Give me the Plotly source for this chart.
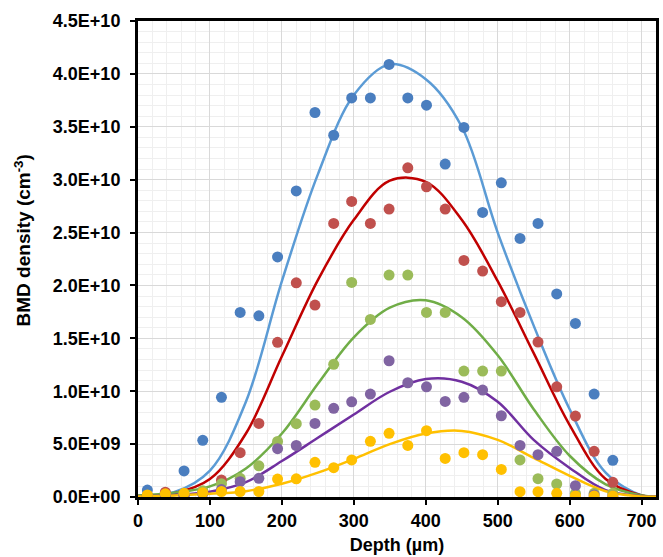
import plotly.graph_objects as go

# Measured BMD density profiles (five series) versus depth
depth_um = [13, 38, 64, 90, 116, 142, 168, 194, 220, 246, 272, 297, 323,
            349, 375, 401, 427, 453, 479, 505, 531, 556, 582, 608, 634, 660]

blue_pts = [6.6e8, 3.0e8, 2.46e9, 5.36e9, 9.42e9, 1.745e10, 1.713e10, 2.27e10,
            2.894e10, 3.635e10, 3.42e10, 3.773e10, 3.773e10, 4.089e10, 3.773e10,
            3.704e10, 3.147e10, 3.494e10, 2.69e10, 2.97e10, 2.444e10, 2.586e10,
            1.92e10, 1.641e10, 9.73e9, 3.47e9]
red_pts = [1.5e8, 4.5e8, 2.0e8, 5.0e8, 1.6e9, 4.19e9, 6.96e9, 1.462e10,
           2.025e10, 1.814e10, 2.586e10, 2.794e10, 2.586e10, 2.722e10, 3.112e10,
           2.933e10, 2.722e10, 2.237e10, 2.136e10, 1.846e10, 1.745e10, 1.465e10,
           1.042e10, 7.65e9, 4.32e9, 1.39e9]
green_pts = [1.0e8, 2.0e8, 3.0e8, 6.0e8, 1.25e9, 1.77e9, 2.95e9, 5.25e9,
             6.93e9, 8.69e9, 1.254e10, 2.029e10, 1.679e10, 2.098e10, 2.098e10,
             1.745e10, 1.745e10, 1.19e10, 1.19e10, 1.19e10, 3.5e9, 1.73e9,
             1.23e9, 3.5e8, 3.5e8, 3.5e8]
purple_pts = [1.0e8, 1.5e8, 1.0e8, 3.0e8, 7.0e8, 1.45e9, 1.77e9, 4.57e9,
              4.87e9, 6.96e9, 8.38e9, 9.0e9, 9.73e9, 1.288e10, 1.08e10,
              1.042e10, 9.04e9, 9.42e9, 1.011e10, 7.68e9, 4.88e9, 4.0e9,
              4.32e9, 1.07e9, 2.0e8, 1.0e8]
yellow_pts = [2.0e8, 3.0e8, 3.5e8, 4.0e8, 5.2e8, 5.2e8, 5.2e8, 1.7e9,
              1.72e9, 3.28e9, 2.77e9, 3.5e9, 5.26e9, 6.02e9, 4.88e9, 6.27e9,
              3.65e9, 4.19e9, 4.0e9, 2.61e9, 5.0e8, 5.0e8, 3.5e8, 1.0e8,
              1.0e8, 1.0e8]

# Fitted profile curves, sampled every 50 µm
fit_depth = [0, 50, 100, 150, 200, 250, 300, 350, 400, 450, 500, 550,
             600, 650, 700, 720]
blue_fit = [1.0e8, 4.5e8, 2.5e9, 9.0e9, 2.04e10, 3.05e10, 3.8e10, 4.09e10,
            3.95e10, 3.50e10, 2.50e10, 1.62e10, 8.3e9, 2.3e9, 1.5e8, 3e7]
red_fit = [1.0e8, 3.5e8, 1.7e9, 6.0e9, 1.33e10, 2.05e10, 2.62e10, 2.99e10,
           2.98e10, 2.62e10, 2.04e10, 1.36e10, 6.8e9, 1.7e9, 1.5e8, 3e7]
green_fit = [1.5e8, 4.0e8, 1.0e9, 2.7e9, 6.0e9, 1.07e10, 1.51e10, 1.79e10,
             1.86e10, 1.70e10, 1.34e10, 8.3e9, 3.9e9, 1.2e9, 1.5e8, 3e7]
purple_fit = [8e7, 2.0e8, 5.0e8, 1.4e9, 3.4e9, 5.6e9, 7.8e9, 9.95e9,
              1.115e10, 1.09e10, 9.0e9, 5.4e9, 2.75e9, 6.5e8, 8e7, 3e7]
yellow_fit = [5e7, 1.5e8, 3.0e8, 5.5e8, 1.25e9, 2.3e9, 3.6e9, 5.0e9,
              6.0e9, 6.25e9, 5.4e9, 3.7e9, 2.0e9, 5.5e8, 5e7, 2e7]

y_tickvals = [0, 5e9, 1e10, 1.5e10, 2e10, 2.5e10, 3e10, 3.5e10, 4e10, 4.5e10]
y_ticktext = ["0.0E+00", "5.0E+09", "1.0E+10", "1.5E+10", "2.0E+10",
              "2.5E+10", "3.0E+10", "3.5E+10", "4.0E+10", "4.5E+10"]

series = [
    (blue_pts, blue_fit, "#4a7ebf", "#5b9bd5"),
    (red_pts, red_fit, "#c0504d", "#c00000"),
    (green_pts, green_fit, "#9bbb59", "#70ad47"),
    (purple_pts, purple_fit, "#8064a2", "#7030a0"),
    (yellow_pts, yellow_fit, "#ffc000", "#ffc000"),
]

fig = go.Figure()
for pts, fit, mcol, lcol in series:
    fig.add_trace(go.Scatter(x=fit_depth, y=fit, mode="lines",
                             line=dict(color=lcol, width=2.5, shape="spline",
                                       smoothing=1.0),
                             showlegend=False, hoverinfo="skip"))
for pts, fit, mcol, lcol in series:
    fig.add_trace(go.Scatter(x=depth_um, y=pts, mode="markers",
                             marker=dict(color=mcol, size=11, line=dict(width=0)),
                             showlegend=False))

font_family = "Liberation Sans, Arial"

fig.update_layout(
    width=663, height=557,
    margin=dict(l=138, r=4, t=21, b=60),
    paper_bgcolor="white", plot_bgcolor="white",
    xaxis=dict(
        range=[0, 720], tickmode="linear", tick0=0, dtick=100,
        showgrid=True, gridcolor="#d9d9d9", gridwidth=1,
        minor=dict(dtick=20, tick0=0, showgrid=True, gridcolor="#efefef",
                   gridwidth=1, ticks=""),
        showline=True, linecolor="black", linewidth=3, mirror=True,
        ticks="outside", ticklen=5, tickwidth=2, tickcolor="black",
        tickfont=dict(family=font_family, size=18, color="black", weight="bold"),
        title=dict(text="Depth (µm)", standoff=9,
                   font=dict(family=font_family, size=18, color="black",
                             weight="bold")),
        zeroline=False,
    ),
    yaxis=dict(
        range=[0, 4.5e10], tickmode="array", tickvals=y_tickvals,
        ticktext=y_ticktext,
        showgrid=True, gridcolor="#d9d9d9", gridwidth=1,
        minor=dict(dtick=1e9, tick0=0, showgrid=True, gridcolor="#efefef",
                   gridwidth=1, ticks=""),
        showline=True, linecolor="black", linewidth=3, mirror=True,
        ticks="outside", ticklen=5, tickwidth=2, tickcolor="black",
        ticklabelstandoff=6,
        tickfont=dict(family=font_family, size=18, color="black", weight="bold"),
        zeroline=False,
    ),
    annotations=[dict(
        text="BMD density (cm<sup>-3</sup>)", textangle=-90,
        xref="paper", yref="paper", x=-0.223, y=0.54,
        xanchor="center", yanchor="middle", showarrow=False,
        font=dict(family=font_family, size=19, color="black", weight="bold"),
    )],
)

fig.write_html("out.html")
